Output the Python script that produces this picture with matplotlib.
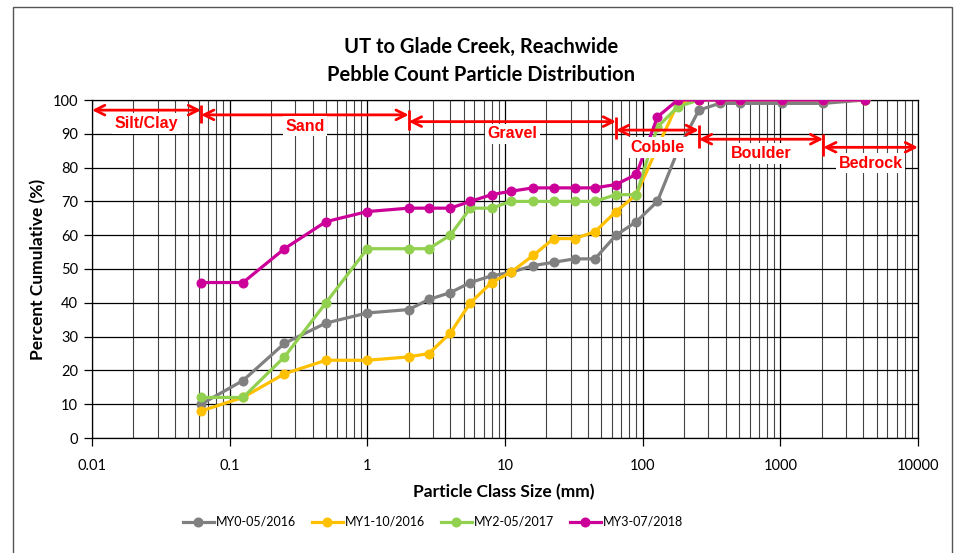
import matplotlib
matplotlib.use("Agg")
import matplotlib.pyplot as plt
from matplotlib.ticker import FixedLocator, LogLocator, NullFormatter
from matplotlib.patches import Rectangle

# ---------------- data ----------------
sizes = [0.062, 0.125, 0.25, 0.5, 1, 2, 2.8, 4, 5.6, 8, 11, 16, 22.6, 32, 45,
         64, 90, 128, 180, 256, 362, 512, 1024, 2048, 4096]
my0 = [10, 17, 28, 34, 37, 38, 41, 43, 46, 48, 49, 51, 52, 53, 53,
       60, 64, 70, 85, 97, 99, 99, 99, 99, 100]
my1 = [8, 12, 19, 23, 23, 24, 25, 31, 40, 46, 49, 54, 59, 59, 61,
       67, 72, 86, 99, 100, 100, 100, 100, 100, 100]
my2 = [12, 12, 24, 40, 56, 56, 56, 60, 68, 68, 70, 70, 70, 70, 70,
       72, 72, 92, 98, 100, 100, 100, 100, 100, 100]
my3 = [46, 46, 56, 64, 67, 68, 68, 68, 70, 72, 73, 74, 74, 74, 74,
       75, 78, 95, 100, 100, 100, 100, 100, 100, 100]
series_names = ["MY0-05/2016", "MY1-10/2016", "MY2-05/2017", "MY3-07/2018"]
series_colors = ["#808080", "#FFC000", "#92D050", "#CC0099"]

class_names = ["Silt/Clay", "Sand", "Gravel", "Cobble", "Boulder", "Bedrock"]
class_bounds = [0.01, 0.062, 2, 64, 256, 2048, 10000]
arrow_levels = [97.0, 95.6, 93.6, 91.1, 88.4, 86.0]
label_levels = [93.0, 92.3, 90.0, 86.0, 84.2, 81.3]

xtick_vals = [0.01, 0.1, 1, 10, 100, 1000, 10000]
xtick_labels = ["0.01", "0.1", "1", "10", "100", "1000", "10000"]
ytick_vals = list(range(0, 101, 10))

title = "UT to Glade Creek, Reachwide\nPebble Count Particle Distribution"
xlabel = "Particle Class Size (mm)"
ylabel = "Percent Cumulative (%)"

# ---------------- figure ----------------
W, H = 960, 553
fig = plt.figure(figsize=(W / 100, H / 100), dpi=100)
fig.patch.set_facecolor("white")

# outer chart border
fig.add_artist(Rectangle((13 / W, -0.05), (952 - 13) / W, 1.05 - 7 / H,
                         transform=fig.transFigure, fill=False,
                         edgecolor="#555555", lw=1.0))

ax = fig.add_axes([92 / W, 1 - 438 / H, 826 / W, 338 / H])
ax.set_xscale("log")
ax.set_xlim(0.01, 10000)
ax.set_ylim(0, 100)

# grid
ax.xaxis.set_major_locator(FixedLocator(xtick_vals))
ax.xaxis.set_minor_locator(LogLocator(base=10, subs=range(2, 10), numticks=20))
ax.xaxis.set_minor_formatter(NullFormatter())
ax.set_xticks(xtick_vals)
ax.set_xticklabels(xtick_labels)
ax.set_yticks(ytick_vals)
ax.grid(True, which="major", axis="both", color="black", lw=0.9, zorder=0)
ax.grid(True, which="minor", axis="x", color="#444444", lw=0.8, zorder=0)
ax.set_axisbelow(True)
ax.tick_params(axis="both", which="major", direction="out", length=6,
               width=0.9, color="black", labelsize=10.5, pad=4)
ax.tick_params(axis="x", which="minor", length=0)
ax.tick_params(axis="x", which="major", pad=9)
for lab in ax.get_xticklabels() + ax.get_yticklabels():
    lab.set_fontfamily("Lato")
for s in ax.spines.values():
    s.set_color("black")
    s.set_linewidth(0.9)

# series
for vals, name, col in zip([my0, my1, my2, my3], series_names, series_colors):
    ax.plot(sizes, vals, color=col, lw=2.3, marker="o", ms=6.2,
            markeredgecolor=col, markerfacecolor=col, label=name, zorder=3)

# class annotations
red = "#FF0000"
for i, name in enumerate(class_names):
    x0, x1 = class_bounds[i], class_bounds[i + 1]
    yl = arrow_levels[i]
    ax.annotate("", xy=(x1, yl), xytext=(x0, yl),
                arrowprops=dict(arrowstyle="<->,head_length=0.7,head_width=0.35",
                                color=red, lw=2.0, shrinkA=0, shrinkB=0),
                zorder=5)
    xm = (x0 * x1) ** 0.5
    ax.text(xm, label_levels[i], name, color=red, fontsize=11.5,
            fontweight="bold", fontfamily="Liberation Sans",
            ha="center", va="center", zorder=6,
            bbox=dict(facecolor="white", edgecolor="none", pad=2.0))
    if 0 < i:
        ax.plot([x0, x0], [arrow_levels[i - 1] + 1.5, yl - 2.5], color=red,
                lw=2.0, solid_capstyle="butt", zorder=5)

# texts
fig.text(481 / W, 1 - 61 / H, title, ha="center", va="center",
         fontsize=14.5, fontweight="bold", fontfamily="Lato", linespacing=1.5)
fig.text(504 / W, 1 - 492 / H, xlabel, ha="center", va="center",
         fontsize=12.5, fontweight="bold", fontfamily="Lato")
fig.text(38 / W, 1 - 269 / H, ylabel, ha="center", va="center",
         rotation=90, fontsize=12.5, fontweight="bold", fontfamily="Lato")

leg = fig.legend(loc="center", bbox_to_anchor=(433 / W, 1 - 522 / H),
                 ncol=4, frameon=False, prop={"family": "Lato", "size": 9},
                 handlelength=2.5, handletextpad=0.2, columnspacing=1.2)

fig.savefig("out.png", dpi=100, facecolor="white")
